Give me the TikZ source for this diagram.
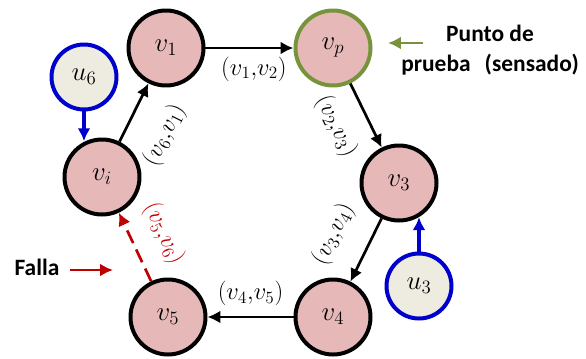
\RequirePackage{fix-cm}
\documentclass[tikz,border=0pt]{standalone}
\usepackage{fontspec}
\newfontfamily\calibri{Carlito}
\usetikzlibrary{arrows.meta}

\definecolor{nodopink}{RGB}{230,185,184}
\definecolor{nodotan}{RGB}{238,236,225}
\definecolor{azul}{RGB}{0,0,204}
\definecolor{verde}{RGB}{119,147,60}
\definecolor{rojo}{RGB}{192,0,0}

\tikzset{
  vnodo/.style={circle,draw=black,line width=3.4pt,fill=nodopink,
    minimum size=2.25cm,inner sep=0pt,font=\fontsize{23}{27}\selectfont},
  unodo/.style={circle,draw=azul,line width=3.4pt,fill=nodotan,
    minimum size=1.95cm,inner sep=0pt,font=\fontsize{23}{27}\selectfont},
  flecha/.style={line width=2.3pt,-{Latex[length=11pt,width=11pt]}},
  etiq/.style={font=\fontsize{21}{25}\selectfont,sloped},
  texto/.style={font=\calibri\bfseries\fontsize{20}{25.5}\selectfont,inner sep=0pt},
}

\begin{document}
\begin{tikzpicture}[x=0.03cm,y=-0.03cm]

\useasboundingbox
(0,0)
rectangle
(586,358);

% Nodos
\node[vnodo] (v1) at (166,48) {$v_1$};
\node[vnodo,draw=verde] (vp) at (333,48) {$v_p$};
\node[vnodo] (v3) at (399,183) {$v_3$};
\node[vnodo] (v4) at (333,317) {$v_4$};
\node[vnodo] (v5) at (168,317) {$v_5$};
\node[vnodo] (vi) at (102,177) {$v_i$};

\node[unodo] (u6) at (84,77) {$u_6$};
\node[unodo] (u3) at (419,286) {$u_3$};

% Aristas
\draw[flecha]
(v1)
--
node[etiq,below=3pt,pos=.55] {$(v_1{,}v_2)$}
(vp);

\draw[flecha]
(vp)
--
node[etiq,below=12pt,pos=.45] {$(v_2{,}v_3)$}
(v3);

\draw[flecha]
(v3)
--
node[etiq,above=16pt] {$(v_3{,}v_4)$}
(v4);

\draw[flecha]
(v4)
--
node[etiq,above=5pt] {$(v_4{,}v_5)$}
(v5);

\draw[flecha,rojo,dash pattern=on 12pt off 6pt]
(v5)
--
node[etiq,above=12pt,text=rojo] {$(v_5{,}v_6)$}
(vi);

\draw[flecha]
(vi)
--
node[etiq,below=17pt,pos=.40] {$(v_6{,}v_1)$}
(v1);

% Entradas
\draw[flecha,azul,line width=2.6pt]
(u6.south)
--
(u6.south |- vi.115);

\draw[flecha,azul,line width=2.6pt]
(u3.north)
--
(u3.north |- v3.-60);

% Falla
\node[texto] (falla) at (37,267) {Falla};
\coordinate (fcola) at (70,270);
\coordinate (fpunta) at (113,270);
\draw[flecha,rojo,line width=2.5pt]
(fcola)
--
(fpunta);

% Punto de prueba
\node[texto,align=center] (prueba) at (490,50)
{Punto de\\prueba\hspace{0.6em}(sensado)};
\coordinate (pcola) at (423,43);
\coordinate (ppunta) at (388,43);
\draw[flecha,verde,line width=2.5pt]
(pcola)
--
(ppunta);

\end{tikzpicture}
\end{document}
